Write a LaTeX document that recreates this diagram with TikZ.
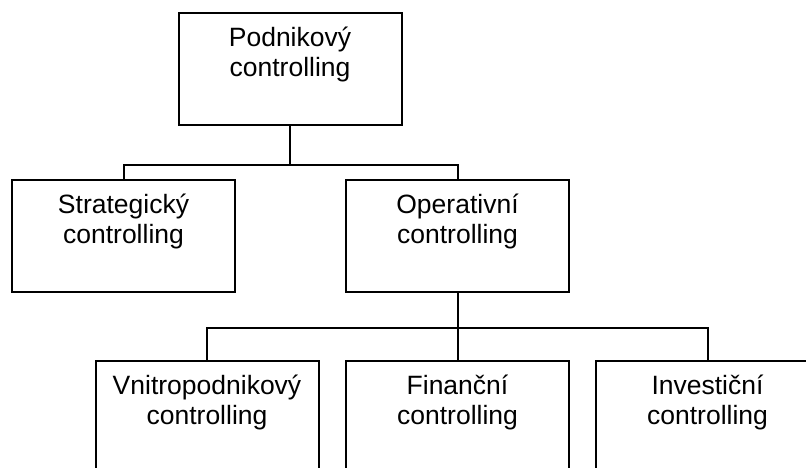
\documentclass[tikz,border=0pt]{standalone}
\usepackage{fontspec}
\setmainfont{Liberation Sans}
\begin{document}
\begin{tikzpicture}[x=1pt,y=-1pt,
  box/.style={draw, line width=2pt, minimum width=223pt, minimum height=112pt, inner sep=0pt, anchor=north},
  lbl/.style={anchor=north, inner sep=0pt, align=center, font=\fontsize{26.5}{30}\selectfont},
  conn/.style={line width=2pt}]
\useasboundingbox (0,0) rectangle (806,468);
\clip (0,0) rectangle (806,468);
\node[box] (top) at (290,12) {};
\node[lbl] (topt) at ([yshift=-15pt]top.north) {Podnikový\\controlling};
\node[box] (strat) at (123.5,178.5) {};
\node[lbl] (stratt) at ([yshift=-15pt]strat.north) {Strategický\\controlling};
\node[box] (oper) at (457.5,178.5) {};
\node[lbl] (opert) at ([yshift=-15pt]oper.north) {Operativní\\controlling};
\node[box] (b1) at (207,360) {};
\node[lbl] (b1t) at ([yshift=-15pt]b1.north) {Vnitropodnikový\\controlling};
\node[box] (b2) at (457.5,360) {};
\node[lbl] (b2t) at ([yshift=-15pt]b2.north) {Finanční\\controlling};
\node[box] (b3) at (707.5,360) {};
\node[lbl] (b3t) at ([yshift=-15pt]b3.north) {Investiční\\controlling};
\coordinate (j1) at (290,165);
\coordinate (j2) at (457.5,328);
\draw[conn] (top.south) -- (j1);
\draw[conn] (strat.north) |- (j1) -| (oper.north);
\draw[conn] (oper.south) -- (j2);
\draw[conn] (b1.north) |- (j2) -| (b3.north);
\draw[conn] (j2) -- (b2.north);
\end{tikzpicture}
\end{document}
